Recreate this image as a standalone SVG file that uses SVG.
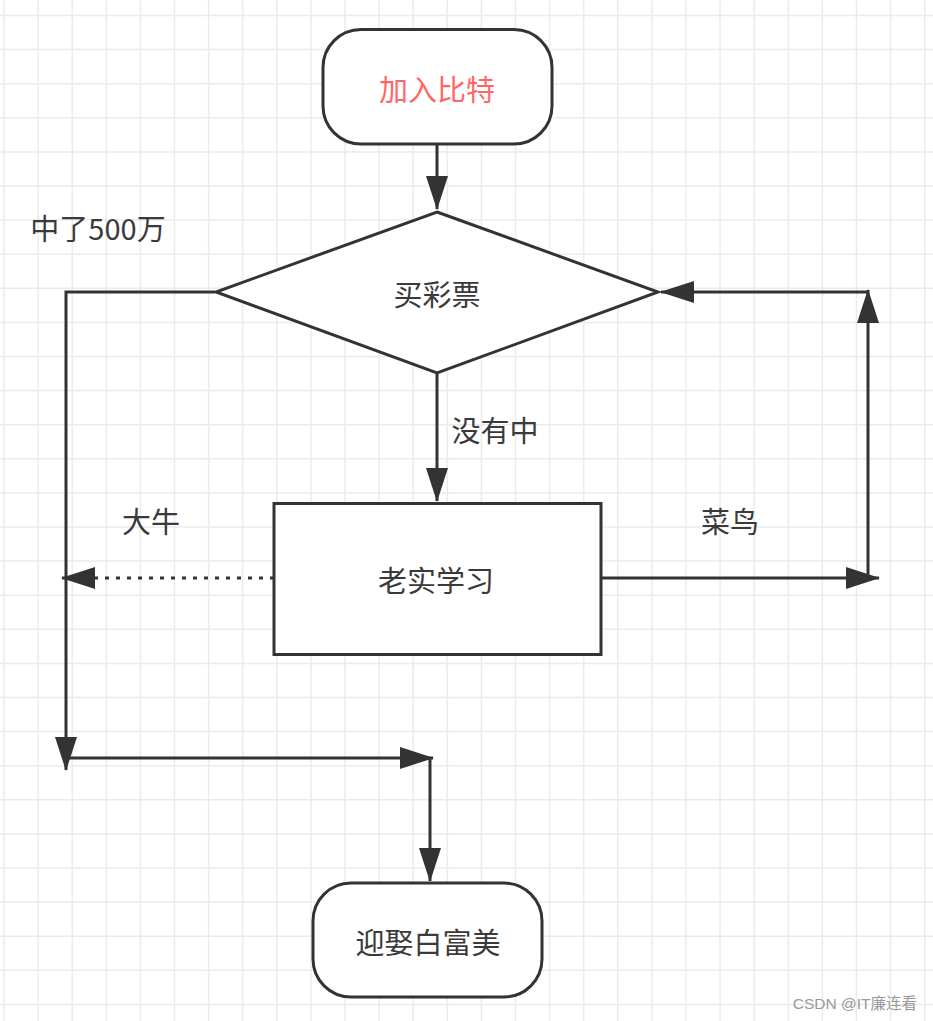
<svg xmlns="http://www.w3.org/2000/svg" width="933" height="1021" viewBox="0 0 933 1021">
  <defs>
    <style>
      .grid { stroke: #ebebeb; stroke-width: 1.5; fill: none; }
      .shape { fill: #ffffff; stroke: #333333; stroke-width: 3; }
      .edge { fill: none; stroke: #333333; stroke-width: 3; marker-end: url(#arrow); }
      .dotted { stroke-dasharray: 4 7; }
      .label { font-family: "Noto Sans CJK SC", "Noto Sans", sans-serif; font-size: 29px; fill: #3a3a3a; text-anchor: middle; dominant-baseline: central; }
      .red { fill: #ff6666; }
      .mark { font-family: "Liberation Sans", "Noto Sans CJK SC", sans-serif; font-size: 15.5px; fill: #999999; text-anchor: end; }
    </style>
    <marker id="arrow" markerUnits="userSpaceOnUse" viewBox="0 0 34 22" markerWidth="34" markerHeight="22" refX="33" refY="11" orient="auto">
      <path d="M0,0 L34,11 L0,22 Z" fill="#333333"/>
    </marker>
  </defs>
  <rect x="0" y="0" width="933" height="1021" fill="#ffffff"/>
  <path class="grid" d="M4,0V1021M38.1,0V1021M72.2,0V1021M106.3,0V1021M140.4,0V1021M174.5,0V1021M208.6,0V1021M242.7,0V1021M276.8,0V1021M310.9,0V1021M345,0V1021M379.1,0V1021M413.2,0V1021M447.3,0V1021M481.4,0V1021M515.5,0V1021M549.6,0V1021M583.7,0V1021M617.8,0V1021M651.9,0V1021M686,0V1021M720.1,0V1021M754.2,0V1021M788.3,0V1021M822.4,0V1021M856.5,0V1021M890.6,0V1021M924.7,0V1021M0,15.5H933M0,49.6H933M0,83.7H933M0,117.8H933M0,151.9H933M0,186H933M0,220.1H933M0,254.2H933M0,288.3H933M0,322.4H933M0,356.5H933M0,390.6H933M0,424.7H933M0,458.8H933M0,492.9H933M0,527H933M0,561.1H933M0,595.2H933M0,629.3H933M0,663.4H933M0,697.5H933M0,731.6H933M0,765.7H933M0,799.8H933M0,833.9H933M0,868H933M0,902.1H933M0,936.2H933M0,970.3H933M0,1004.4H933"/>

  <g id="edges">
    <path class="edge" d="M437,144V209"/>
    <path class="edge" d="M437,373V501"/>
    <path class="edge" d="M215,292H66V770"/>
    <path class="edge dotted" d="M274,578H62"/>
    <path class="edge" d="M66,758H433"/>
    <path class="edge" d="M430,758V881"/>
    <path class="edge" d="M601,578H879"/>
    <path class="edge" d="M868,578V290"/>
    <path class="edge" d="M868,292H661"/>
    <text class="label" x="98" y="227">中了500万</text>
    <text class="label" x="495" y="429">没有中</text>
    <text class="label" x="151" y="520">大牛</text>
    <text class="label" x="730" y="520">菜鸟</text>
  </g>

  <g id="start">
    <rect class="shape" x="323" y="29.5" width="229" height="114.5" rx="38" ry="38"/>
    <text class="label red" x="437" y="88">加入比特</text>
  </g>

  <g id="decision">
    <polygon class="shape" points="437,212 658,292 437,373 216,292"/>
    <text class="label" x="437" y="293">买彩票</text>
  </g>

  <g id="study">
    <rect class="shape" x="274" y="503.5" width="327" height="151"/>
    <text class="label" x="436" y="579">老实学习</text>
  </g>

  <g id="end">
    <rect class="shape" x="313" y="883" width="229" height="114" rx="38" ry="38"/>
    <text class="label" x="428" y="941">迎娶白富美</text>
  </g>

  <text class="mark" x="917" y="1009">CSDN @IT廉连看</text>
</svg>
